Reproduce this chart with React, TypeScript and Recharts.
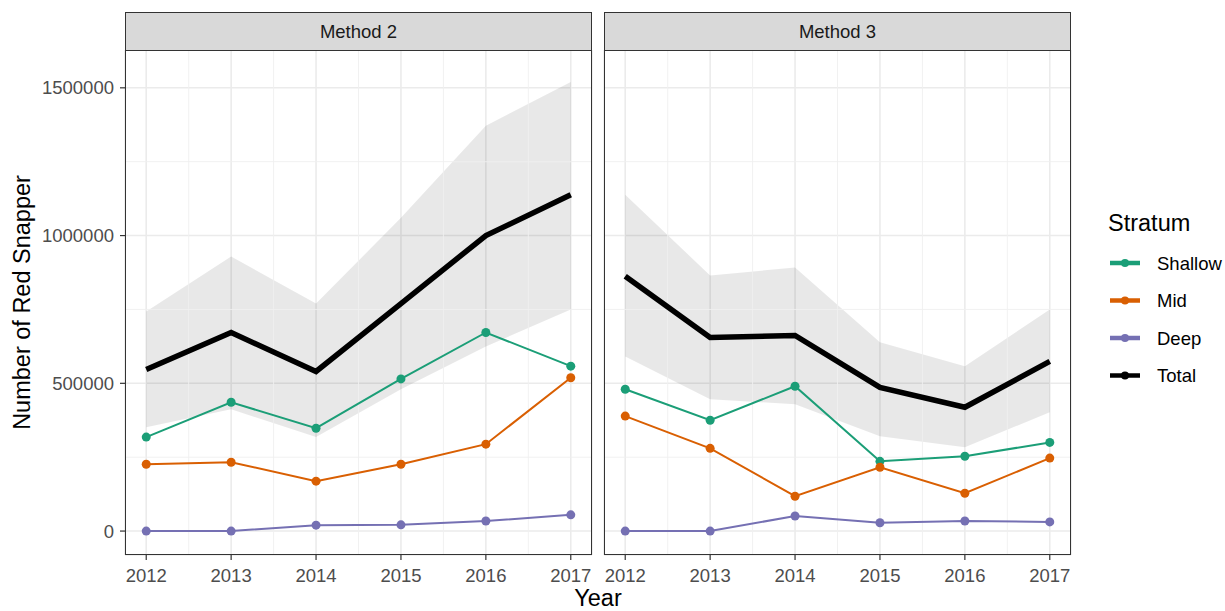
import React from 'react';
import { ComposedChart, Line, Area, XAxis, YAxis, CartesianGrid, ReferenceLine } from 'recharts';

const years = [2012, 2013, 2014, 2015, 2016, 2017];

// Method 2 estimates by stratum
const m2Shallow = [318000, 436000, 348000, 515000, 672000, 558000];
const m2Mid = [226000, 233000, 169000, 226000, 294000, 519000];
const m2Deep = [0, 0, 20000, 21000, 34000, 55000];
const m2Total = [547000, 672000, 540000, 770000, 1000000, 1138000];
const m2Lower = [351000, 412000, 318000, 480000, 625000, 750000];
const m2Upper = [743000, 929000, 770000, 1060000, 1372000, 1520000];

// Method 3 estimates by stratum
const m3Shallow = [480000, 375000, 490000, 236000, 253000, 300000];
const m3Mid = [389000, 280000, 118000, 216000, 128000, 247000];
const m3Deep = [0, 0, 51000, 28000, 34000, 31000];
const m3Total = [862000, 655000, 662000, 486000, 419000, 574000];
const m3Lower = [591000, 446000, 429000, 321000, 284000, 402000];
const m3Upper = [1138000, 865000, 892000, 639000, 558000, 750000];

const yTicks = [0, 500000, 1000000, 1500000];
const yMinor = [250000, 750000, 1250000];
const xMinor = [2012.5, 2013.5, 2014.5, 2015.5, 2016.5];

const strata = ['Shallow', 'Mid', 'Deep', 'Total'];
const colors: Record<string, string> = {
  Shallow: '#1B9E77',
  Mid: '#D95F02',
  Deep: '#7570B3',
  Total: '#000000',
};

const FONT = '"Liberation Sans", Arial, sans-serif';
const W = 1225;
const H = 611;
const PLOT_TOP = 50;
const PLOT_BOTTOM = 555;

const buildRows = (
  shallow: number[], mid: number[], deep: number[], total: number[], lo: number[], hi: number[],
) => years.map((year, i) => ({
  year,
  Shallow: shallow[i],
  Mid: mid[i],
  Deep: deep[i],
  Total: total[i],
  band: [lo[i], hi[i]],
}));

const method2 = buildRows(m2Shallow, m2Mid, m2Deep, m2Total, m2Lower, m2Upper);
const method3 = buildRows(m3Shallow, m3Mid, m3Deep, m3Total, m3Lower, m3Upper);

const tickStyle = { fontFamily: FONT, fontSize: 18.5, fill: '#4D4D4D' };

interface PanelProps {
  title: string;
  data: any[];
  left: number;
  right: number;
  showY: boolean;
}

const Panel = ({ title, data, left, right, showY }: PanelProps) => {
  const yWidth = showY ? 60 : 0;
  return (
    <>
      <div style={{ position: 'absolute', left: 0, top: 0 }}>
        <ComposedChart
          width={W}
          height={H}
          data={data}
          margin={{ top: PLOT_TOP, bottom: H - PLOT_BOTTOM - 40, left: left - yWidth, right: W - right }}
        >
          <CartesianGrid stroke="#EBEBEB" strokeWidth={1.6} />
          {xMinor.map((x) => (
            <ReferenceLine key={`vx${x}`} x={x} stroke="#EFEFEF" strokeWidth={0.9} />
          ))}
          {yMinor.map((y) => (
            <ReferenceLine key={`hy${y}`} y={y} stroke="#EFEFEF" strokeWidth={0.9} />
          ))}
          <XAxis
            dataKey="year"
            type="number"
            domain={[2011.75, 2017.25]}
            ticks={years}
            interval={0}
            allowDataOverflow
            height={40}
            axisLine={false}
            tickSize={5}
            tickMargin={9}
            tickLine={{ stroke: '#333333', strokeWidth: 1.2 }}
            tick={tickStyle}
          />
          <YAxis
            hide={!showY}
            type="number"
            domain={[-81000, 1628000]}
            ticks={yTicks}
            interval={0}
            allowDataOverflow
            width={yWidth}
            axisLine={false}
            tickSize={5}
            tickMargin={6}
            tickLine={{ stroke: '#333333', strokeWidth: 1.2 }}
            tick={tickStyle}
          />
          <Area
            dataKey="band"
            type="linear"
            stroke="none"
            fill="#000000"
            fillOpacity={0.09}
            isAnimationActive={false}
          />
          {strata.filter((s) => s !== 'Total').map((s) => (
            <Line
              key={s}
              dataKey={s}
              type="linear"
              stroke={colors[s]}
              strokeWidth={2}
              dot={{ r: 4.5, fill: colors[s], stroke: colors[s], strokeWidth: 0 }}
              isAnimationActive={false}
            />
          ))}
          <Line
            dataKey="Total"
            type="linear"
            stroke="#000000"
            strokeWidth={5.5}
            dot={false}
            isAnimationActive={false}
          />
        </ComposedChart>
      </div>
      {/* facet strip */}
      <div
        style={{
          position: 'absolute', left, top: 12, width: right - left, height: PLOT_TOP - 12 + 1,
          background: '#D9D9D9', border: '1.3px solid #333333', boxSizing: 'border-box',
          display: 'flex', alignItems: 'center', justifyContent: 'center',
          fontFamily: FONT, fontSize: 18.5, color: '#1A1A1A',
        }}
      >
        {title}
      </div>
      {/* panel border */}
      <div
        style={{
          position: 'absolute', left, top: PLOT_TOP, width: right - left, height: PLOT_BOTTOM - PLOT_TOP,
          border: '1.3px solid #333333', boxSizing: 'border-box', pointerEvents: 'none',
        }}
      />
    </>
  );
};

const App = () => (
  <div style={{ position: 'absolute', left: 0, top: 0, width: W, height: H, background: '#fff', fontFamily: FONT }}>
    <Panel title="Method 2" data={method2} left={125} right={592} showY />
    <Panel title="Method 3" data={method3} left={604} right={1071} showY={false} />
    <svg width={W} height={H} style={{ position: 'absolute', left: 0, top: 0, pointerEvents: 'none' }}>
      <text
        x={0}
        y={0}
        transform={`translate(30, ${(PLOT_TOP + PLOT_BOTTOM) / 2}) rotate(-90)`}
        textAnchor="middle"
        fontFamily={FONT}
        fontSize={23.5}
        fill="#000"
      >
        Number of Red Snapper
      </text>
      <text x={(125 + 1071) / 2} y={606} textAnchor="middle" fontFamily={FONT} fontSize={23.5} fill="#000">
        Year
      </text>
      <text x={1108} y={231} fontFamily={FONT} fontSize={23.5} fill="#000">
        Stratum
      </text>
      {strata.map((s, i) => {
        const cy = 263 + i * 37.5;
        return (
          <g key={s}>
            <line x1={1110} x2={1140} y1={cy} y2={cy} stroke={colors[s]} strokeWidth={4.5} />
            <circle cx={1125} cy={cy} r={4} fill={colors[s]} />
            <text x={1157} y={cy + 6.5} fontFamily={FONT} fontSize={18.5} fill="#000">
              {s}
            </text>
          </g>
        );
      })}
    </svg>
  </div>
);

export default App;
